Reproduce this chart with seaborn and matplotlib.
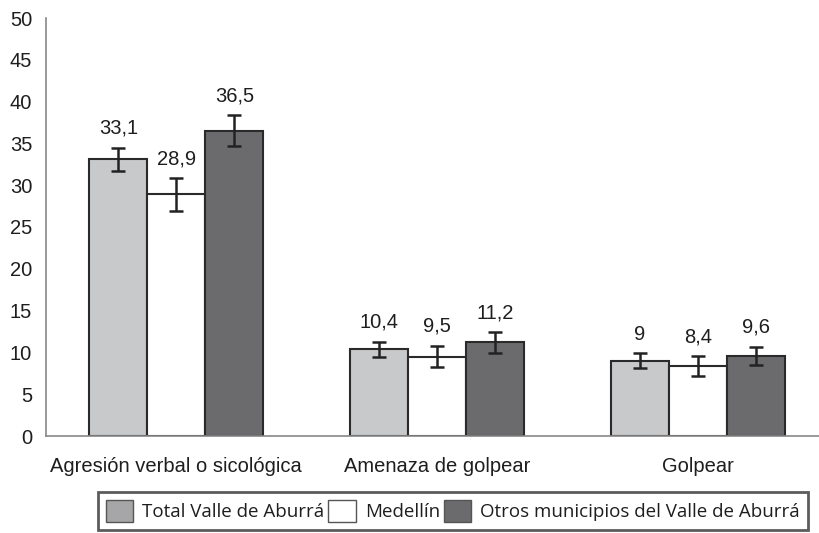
import pandas as pd
import numpy as np
import matplotlib
matplotlib.use("Agg")
import matplotlib.pyplot as plt
import seaborn as sns
from matplotlib.patches import Patch

categories = ["Agresión verbal o sicológica", "Amenaza de golpear", "Golpear"]
series = ["Total Valle de Aburrá", "Medellín", "Otros municipios del Valle de Aburrá"]
values = {
    "Total Valle de Aburrá": [33.1, 10.4, 9.0],
    "Medellín": [28.9, 9.5, 8.4],
    "Otros municipios del Valle de Aburrá": [36.5, 11.2, 9.6],
}
errors = {
    "Total Valle de Aburrá": [1.4, 0.9, 0.9],
    "Medellín": [1.95, 1.3, 1.2],
    "Otros municipios del Valle de Aburrá": [1.85, 1.25, 1.1],
}
labels = {
    "Total Valle de Aburrá": ["33,1", "10,4", "9"],
    "Medellín": ["28,9", "9,5", "8,4"],
    "Otros municipios del Valle de Aburrá": ["36,5", "11,2", "9,6"],
}
bar_colors = ["#c8c9cb", "#ffffff", "#6b6b6d"]
legend_colors = ["#a6a6a8", "#ffffff", "#6b6b6d"]

rows = []
for s in series:
    for c, v in zip(categories, values[s]):
        rows.append({"cat": c, "serie": s, "value": v})
df = pd.DataFrame(rows)

sns.set_style("white")
plt.rcParams["font.family"] = ["Liberation Sans", "DejaVu Sans"]

fig = plt.figure(figsize=(8.2, 5.33), dpi=100)
ax = fig.add_axes([46 / 820, (533 - 436) / 533, 782 / 820, 418 / 533])

sns.barplot(data=df, x="cat", y="value", hue="serie", order=categories,
            hue_order=series, palette=bar_colors, width=0.667, gap=0,
            edgecolor="#2a2a2a", linewidth=1.5, errorbar=None, legend=False,
            ax=ax)

text_color = "#1e1e1e"
for cont, s in zip(ax.containers, series):
    for bar, e, lab in zip(cont, errors[s], labels[s]):
        xc = bar.get_x() + bar.get_width() / 2
        h = bar.get_height()
        ax.errorbar(xc, h, yerr=e, fmt="none", ecolor="#222222",
                    elinewidth=1.8, capsize=5, capthick=1.8, zorder=5)
        ax.annotate(lab, (xc, h + e), xytext=(0, 7), textcoords="offset points",
                    ha="center", va="bottom", fontsize=14.5, color=text_color)

ax.set_xlim(-0.5, 2.5)
ax.set_ylim(0, 50)
ax.set_yticks(np.arange(0, 51, 5))
ax.set_xticks(range(len(categories)))
ax.set_xticklabels(categories)
ax.set_xticks([-0.5, 0.5, 1.5, 2.5], minor=True)
ax.tick_params(axis="x", which="major", length=0, pad=15, labelsize=14.5,
               labelcolor=text_color)
ax.tick_params(axis="x", which="minor", length=6, width=1, color="#888888",
               direction="out")
ax.tick_params(axis="y", length=6, width=1, color="#888888", direction="out",
               pad=4, labelsize=14.5, labelcolor=text_color)
ax.set_xlabel("")
ax.set_ylabel("")
for sp in ["top", "right"]:
    ax.spines[sp].set_visible(False)
for sp in ["left", "bottom"]:
    ax.spines[sp].set_color("#888888")
    ax.spines[sp].set_linewidth(1.2)

handles = [Patch(facecolor=c, edgecolor="#555555", linewidth=1) for c in legend_colors]
leg = fig.legend(handles, series, loc="upper left",
                 bbox_to_anchor=(98 / 820, 1 - 492 / 533),
                 ncol=3, frameon=True, fancybox=False,
                 handlelength=1.45, handleheight=1.45, handletextpad=0.5,
                 columnspacing=0.2, borderaxespad=0, borderpad=0.42,
                 prop={"family": ["Open Sans", "DejaVu Sans"], "size": 13.5})
leg.get_frame().set_edgecolor("#333333")
leg.get_frame().set_linewidth(2)
for t in leg.get_texts():
    t.set_color(text_color)

fig.savefig("out.png", dpi=100)
